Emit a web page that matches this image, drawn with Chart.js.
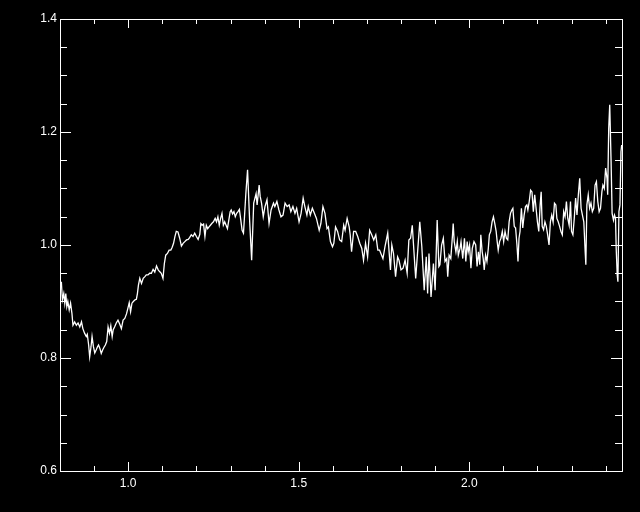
<!DOCTYPE html>
<html>
<head>
<meta charset="utf-8">
<script src="https://cdn.jsdelivr.net/npm/chart.js@4/dist/chart.umd.min.js"></script>
<style>
  html, body { margin: 0; padding: 0; background: #000; }
  canvas { display: block; }
</style>
</head>
<body>
<canvas id="spectrum" width="640" height="512"></canvas>
<script>
// wavelength (x) and normalised flux (y)
const wavelength = [
  0.804, 0.807, 0.811, 0.814, 0.817, 0.820, 0.823, 0.827, 0.831, 0.835,
  0.838, 0.843, 0.848, 0.853, 0.858, 0.863, 0.867, 0.872, 0.877, 0.880,
  0.884, 0.887, 0.891, 0.894, 0.898, 0.902, 0.906, 0.910, 0.913, 0.917,
  0.921, 0.925, 0.929, 0.933, 0.937, 0.941, 0.945, 0.949, 0.953, 0.956,
  0.960, 0.965, 0.970, 0.975, 0.980, 0.985, 0.990, 0.995, 0.999, 1.003,
  1.007, 1.011, 1.015, 1.020, 1.024, 1.027, 1.030, 1.034, 1.039, 1.044,
  1.049, 1.053, 1.058, 1.063, 1.068, 1.073, 1.078, 1.083, 1.088, 1.092,
  1.097, 1.102, 1.106, 1.110, 1.115, 1.120, 1.125, 1.129, 1.133, 1.137,
  1.141, 1.146, 1.151, 1.156, 1.161, 1.166, 1.171, 1.176, 1.180, 1.185,
  1.190, 1.195, 1.200, 1.205, 1.210, 1.213, 1.217, 1.221, 1.225, 1.229,
  1.233, 1.237, 1.241, 1.245, 1.250, 1.255, 1.259, 1.263, 1.267, 1.271,
  1.275, 1.279, 1.283, 1.287, 1.291, 1.295, 1.299, 1.302, 1.306, 1.310,
  1.314, 1.318, 1.322, 1.326, 1.330, 1.334, 1.338, 1.341, 1.345, 1.350,
  1.356, 1.362, 1.368, 1.375, 1.378, 1.384, 1.387, 1.391, 1.396, 1.401,
  1.407, 1.413, 1.419, 1.426, 1.430, 1.436, 1.442, 1.448, 1.454, 1.460,
  1.466, 1.472, 1.477, 1.483, 1.489, 1.494, 1.501, 1.507, 1.513, 1.518,
  1.524, 1.528, 1.534, 1.540, 1.546, 1.552, 1.560, 1.565, 1.571, 1.577,
  1.583, 1.587, 1.593, 1.599, 1.603, 1.608, 1.614, 1.620, 1.626, 1.632,
  1.636, 1.642, 1.648, 1.651, 1.655, 1.661, 1.667, 1.673, 1.679, 1.685,
  1.690, 1.696, 1.702, 1.708, 1.714, 1.720, 1.726, 1.732, 1.737, 1.743,
  1.747, 1.753, 1.761, 1.769, 1.773, 1.778, 1.784, 1.790, 1.794, 1.800,
  1.806, 1.812, 1.818, 1.823, 1.828, 1.833, 1.837, 1.843, 1.849, 1.855,
  1.861, 1.868, 1.874, 1.878, 1.882, 1.888, 1.895, 1.900, 1.906, 1.911,
  1.914, 1.919, 1.924, 1.929, 1.934, 1.937, 1.941, 1.946, 1.951, 1.953,
  1.956, 1.961, 1.965, 1.968, 1.973, 1.976, 1.981, 1.986, 1.990, 1.994,
  1.997, 2.001, 2.005, 2.009, 2.014, 2.019, 2.023, 2.027, 2.031, 2.034,
  2.038, 2.041, 2.044, 2.048, 2.052, 2.056, 2.059, 2.063, 2.067, 2.071,
  2.075, 2.079, 2.082, 2.085, 2.089, 2.093, 2.097, 2.101, 2.105, 2.109,
  2.113, 2.117, 2.121, 2.125, 2.128, 2.132, 2.136, 2.140, 2.143, 2.146,
  2.149, 2.153, 2.157, 2.161, 2.165, 2.169, 2.172, 2.176, 2.180, 2.184,
  2.188, 2.192, 2.196, 2.200, 2.204, 2.208, 2.211, 2.214, 2.218, 2.222,
  2.226, 2.230, 2.234, 2.238, 2.242, 2.246, 2.250, 2.254, 2.257, 2.261,
  2.265, 2.269, 2.273, 2.277, 2.281, 2.285, 2.289, 2.293, 2.297, 2.300,
  2.304, 2.308, 2.312, 2.316, 2.320, 2.324, 2.328, 2.332, 2.336, 2.340,
  2.342, 2.345, 2.349, 2.353, 2.357, 2.361, 2.365, 2.369, 2.373, 2.377,
  2.381, 2.385, 2.389, 2.392, 2.396, 2.400, 2.404, 2.406, 2.409, 2.412,
  2.416, 2.419, 2.423, 2.426, 2.429, 2.431, 2.434, 2.436, 2.439, 2.442,
  2.445, 2.447
];

const flux = [
  0.935, 0.903, 0.914, 0.897, 0.914, 0.891, 0.900, 0.885, 0.897, 0.879,
  0.858, 0.864, 0.858, 0.862, 0.855, 0.864, 0.852, 0.844, 0.838, 0.842,
  0.823, 0.802, 0.820, 0.838, 0.820, 0.809, 0.814, 0.820, 0.823, 0.817,
  0.808, 0.814, 0.819, 0.823, 0.829, 0.855, 0.844, 0.857, 0.838, 0.850,
  0.855, 0.862, 0.867, 0.860, 0.852, 0.867, 0.870, 0.878, 0.888, 0.898,
  0.882, 0.897, 0.900, 0.903, 0.904, 0.914, 0.929, 0.941, 0.932, 0.941,
  0.944, 0.947, 0.947, 0.950, 0.950, 0.957, 0.952, 0.963, 0.956, 0.953,
  0.950, 0.941, 0.967, 0.982, 0.985, 0.991, 0.991, 0.996, 1.003, 1.015,
  1.024, 1.023, 1.012, 0.998, 1.003, 1.006, 1.009, 1.010, 1.013, 1.018,
  1.015, 1.021, 1.015, 1.010, 1.019, 1.038, 1.035, 1.037, 1.015, 1.035,
  1.029, 1.032, 1.035, 1.038, 1.041, 1.047, 1.041, 1.050, 1.035, 1.047,
  1.056, 1.035, 1.041, 1.035, 1.029, 1.044, 1.059, 1.062, 1.055, 1.059,
  1.050, 1.056, 1.059, 1.063, 1.045, 1.026, 1.021, 1.050, 1.091, 1.133,
  1.044, 0.973, 1.074, 1.091, 1.071, 1.106, 1.086, 1.074, 1.050, 1.068,
  1.080, 1.038, 1.062, 1.074, 1.068, 1.077, 1.062, 1.050, 1.053, 1.074,
  1.068, 1.071, 1.059, 1.068, 1.056, 1.065, 1.041, 1.056, 1.083, 1.068,
  1.053, 1.068, 1.053, 1.065, 1.056, 1.047, 1.026, 1.038, 1.068, 1.056,
  1.029, 1.032, 1.006, 0.997, 1.003, 1.032, 1.024, 1.009, 1.006, 1.035,
  1.026, 1.047, 1.032, 1.018, 0.988, 1.024, 1.024, 1.015, 1.003, 0.994,
  0.973, 1.003, 0.979, 1.026, 1.018, 1.009, 1.018, 0.991, 0.991, 0.982,
  0.976, 0.997, 1.021, 0.956, 1.000, 0.985, 0.944, 0.979, 0.973, 0.956,
  0.959, 0.973, 0.950, 1.009, 1.012, 1.035, 0.997, 0.941, 0.991, 1.041,
  0.997, 0.920, 0.979, 0.914, 0.985, 0.908, 0.967, 0.920, 1.044, 0.962,
  0.965, 1.000, 1.012, 0.971, 0.976, 0.944, 0.982, 0.976, 1.018, 1.038,
  1.006, 0.988, 1.006, 0.982, 0.994, 1.006, 0.976, 1.012, 0.971, 1.006,
  0.988, 1.000, 0.959, 0.994, 1.006, 1.000, 0.962, 0.988, 0.965, 1.018,
  0.988, 0.976, 0.956, 0.982, 0.971, 0.994, 1.018, 1.024, 1.041, 1.050,
  1.038, 1.024, 1.006, 0.991, 1.006, 1.012, 1.024, 1.006, 1.024, 1.012,
  1.009, 1.041, 1.056, 1.062, 1.065, 1.033, 1.030, 1.000, 0.971, 1.012,
  1.024, 1.065, 1.030, 1.053, 1.068, 1.071, 1.062, 1.077, 1.097, 1.094,
  1.059, 1.089, 1.065, 1.041, 1.024, 1.071, 1.094, 1.033, 1.027, 1.041,
  1.033, 1.018, 1.000, 1.041, 1.053, 1.041, 1.074, 1.071, 1.047, 1.041,
  1.033, 1.024, 1.018, 1.059, 1.050, 1.077, 1.047, 1.035, 1.077, 1.024,
  1.018, 1.047, 1.083, 1.053, 1.089, 1.118, 1.065, 1.053, 1.041, 0.988,
  0.965, 1.071, 1.089, 1.065, 1.074, 1.059, 1.065, 1.106, 1.112, 1.077,
  1.059, 1.065, 1.094, 1.106, 1.100, 1.136, 1.118, 1.089, 1.206, 1.248,
  1.148, 1.056, 1.044, 1.053, 1.047, 0.994, 0.947, 0.935, 1.059, 1.071,
  1.165, 1.177
];

const xTickLabels = [1.0, 1.5, 2.0];
const yTickLabels = [0.6, 0.8, 1.0, 1.2, 1.4];

const points = wavelength.map((w, i) => ({ x: w, y: flux[i] }));

const labelFont = { family: 'Liberation Sans', size: 12 };

// black background, closed white box and inward ticks on all four sides
const frame = {
  id: 'frame',
  beforeDraw(chart) {
    const ctx = chart.ctx;
    ctx.save();
    ctx.fillStyle = '#000';
    ctx.fillRect(0, 0, chart.width, chart.height);
    ctx.restore();
  },
  afterDraw(chart) {
    const { ctx, chartArea: a, scales: { x, y } } = chart;
    ctx.save();
    ctx.strokeStyle = '#fff';
    ctx.lineWidth = 1;
    ctx.strokeRect(a.left + 0.5, a.top + 0.5, a.right - a.left, a.bottom - a.top);
    ctx.beginPath();
    // x ticks every 0.1, long ones every 0.5
    for (let i = 8; i <= 24; i++) {
      const px = Math.round(x.getPixelForValue(i / 10)) + 0.5;
      const len = i % 5 === 0 ? 9 : 5;
      ctx.moveTo(px, a.bottom); ctx.lineTo(px, a.bottom - len);
      ctx.moveTo(px, a.top); ctx.lineTo(px, a.top + len);
    }
    // y ticks every 0.05, long ones every 0.2
    for (let i = 12; i <= 28; i++) {
      const py = Math.round(y.getPixelForValue(i / 20)) + 0.5;
      const len = i % 4 === 0 ? 11 : 7;
      ctx.moveTo(a.left, py); ctx.lineTo(a.left + len, py);
      ctx.moveTo(a.right, py); ctx.lineTo(a.right - len, py);
    }
    ctx.stroke();
    ctx.restore();
  }
};

new Chart(document.getElementById('spectrum'), {
  type: 'line',
  data: {
    datasets: [{
      data: points,
      borderColor: '#fff',
      borderWidth: 1.3,
      pointRadius: 0,
      fill: false,
      tension: 0
    }]
  },
  options: {
    responsive: false,
    animation: false,
    layout: { padding: { top: 19, right: 18 } },
    plugins: { legend: { display: false }, tooltip: { enabled: false } },
    scales: {
      x: {
        type: 'linear',
        min: 0.8,
        max: 2.448,
        grid: { display: false, drawTicks: false },
        border: { display: false },
        afterBuildTicks: s => { s.ticks = xTickLabels.map(v => ({ value: v })); },
        afterFit: s => { s.height = 41; },
        ticks: {
          color: '#fff', font: labelFont, padding: 5,
          maxRotation: 0, autoSkip: false,
          callback: v => Number(v).toFixed(1)
        }
      },
      y: {
        type: 'linear',
        min: 0.6,
        max: 1.4,
        grid: { display: false, drawTicks: false },
        border: { display: false },
        afterBuildTicks: s => { s.ticks = yTickLabels.map(v => ({ value: v })); },
        afterFit: s => { s.width = 60; },
        ticks: {
          color: '#fff', font: labelFont, padding: 3,
          autoSkip: false,
          callback: v => Number(v).toFixed(1)
        }
      }
    }
  },
  plugins: [frame]
});
</script>
</body>
</html>
